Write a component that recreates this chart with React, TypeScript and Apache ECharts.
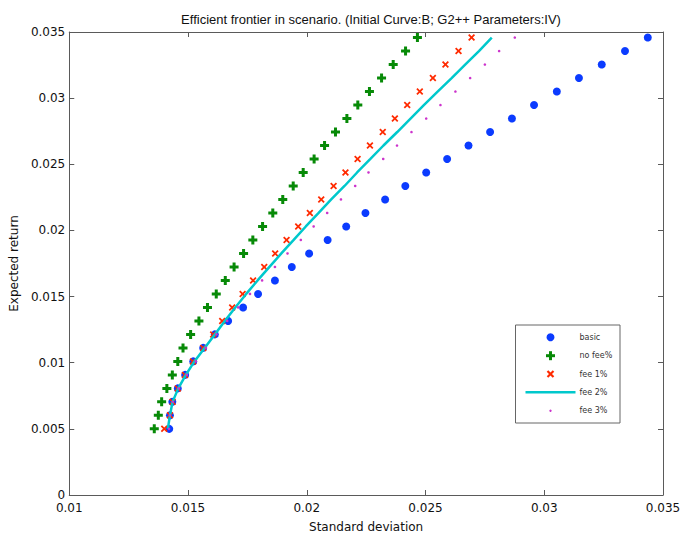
import React, { useEffect, useRef } from "react";
import * as echarts from "echarts";

const expectedReturn = [
  0.005, 0.00602, 0.00704, 0.00806, 0.00908, 0.0101, 0.01112, 0.01214, 0.01316, 0.01418,
  0.0152, 0.01622, 0.01724, 0.01826, 0.01928, 0.0203, 0.02132, 0.02234, 0.02336, 0.02438,
  0.0254, 0.02642, 0.02744, 0.02846, 0.02948, 0.0305, 0.03152, 0.03254, 0.03356, 0.03458,
];

const basicStd = [
  0.01421, 0.01424, 0.01434, 0.01457, 0.01488, 0.01522, 0.01564, 0.01613, 0.01669, 0.01732,
  0.01795, 0.01866, 0.01937, 0.0201, 0.02088, 0.02166, 0.02247, 0.0233, 0.02415, 0.02503,
  0.02591, 0.02681, 0.02772, 0.02864, 0.02957, 0.03053, 0.03146, 0.03242, 0.0334, 0.03436,
];

const noFeeStd = [
  0.01358, 0.01375, 0.01389, 0.01411, 0.01434, 0.01457, 0.01479, 0.01511, 0.01546, 0.01582,
  0.01619, 0.01657, 0.01694, 0.01734, 0.01773, 0.01814, 0.01857, 0.01899, 0.01943, 0.01985,
  0.02031, 0.02075, 0.02121, 0.02169, 0.02215, 0.02264, 0.02315, 0.02364, 0.02416, 0.02466,
];

const fee1Std = [
  0.014, 0.01424, 0.01435, 0.01457, 0.01487, 0.01521, 0.01564, 0.01606, 0.01644, 0.01686,
  0.0173, 0.01774, 0.01821, 0.01867, 0.01915, 0.01964, 0.02013, 0.02061, 0.02113, 0.02163,
  0.02214, 0.02266, 0.0232, 0.02371, 0.02423, 0.02476, 0.02531, 0.02584, 0.02639, 0.02694,
];

const fee2Std = [
  0.01415, 0.01424, 0.01435, 0.01459, 0.01491, 0.01527, 0.0157, 0.01613, 0.01655, 0.01699,
  0.01745, 0.01793, 0.01843, 0.01893, 0.01945, 0.01996, 0.0205, 0.02103, 0.02159, 0.02212,
  0.02268, 0.02323, 0.02381, 0.02437, 0.02493, 0.02551, 0.0261, 0.02667, 0.02725, 0.02779,
];

const fee3Std = [
  0.0142, 0.01424, 0.01436, 0.01462, 0.01495, 0.01533, 0.01575, 0.0162, 0.01665, 0.01711,
  0.01761, 0.01812, 0.01866, 0.01919, 0.01975, 0.02029, 0.02086, 0.02144, 0.02204, 0.0226,
  0.02322, 0.0238, 0.02441, 0.02503, 0.02563, 0.02626, 0.02688, 0.0275, 0.0281, 0.02876,
];

const seriesNames = ["basic", "no fee%", "fee 1%", "fee 2%", "fee 3%"];

const BLUE = "#0b3bff";
const GREEN = "#078a07";
const RED = "#ff2a00";
const CYAN = "#00c8cc";
const MAGENTA = "#cc33cc";
const AXIS = "#5a5a5a";

const PLUS = "path://M3,0H6V3H9V6H6V9H3V6H0V3H3Z";
const CROSS =
  "path://M0,1.6L1.6,0L4.5,2.9L7.4,0L9,1.6L6.1,4.5L9,7.4L7.4,9L4.5,6.1L1.6,9L0,7.4L2.9,4.5Z";

const pairs = (xs: number[]) => xs.map((x, i) => [x, expectedReturn[i]]);

const fmt = (v: number) => String(+v.toFixed(4));

export default function App() {
  const ref = useRef<HTMLDivElement>(null);
  useEffect(() => {
    if (!ref.current) return;
    const chart = echarts.init(ref.current, undefined, { renderer: "svg" });
    const font = "'Liberation Sans', Arial, sans-serif";
    const tickFont = "'DejaVu Sans', sans-serif";
    const commonAxis = {
      axisLine: { show: true, onZero: false, lineStyle: { color: AXIS, width: 1 } },
      axisTick: { show: true, inside: true, length: 5, lineStyle: { color: AXIS } },
      splitLine: { show: false },
    };
    const lx = 515.5;
    const ly = 325;
    const rowY = [12.3, 30.7, 49, 67.3, 85.7];
    const symX = 35;
    const txtX = 64;
    const legendChildren: any[] = [
      {
        type: "rect",
        shape: { x: 0, y: 0, width: 104.5, height: 98 },
        style: { fill: "#fff", stroke: "#666", lineWidth: 1 },
      },
      { type: "circle", shape: { cx: symX, cy: rowY[0], r: 4 }, style: { fill: BLUE } },
      { type: "rect", shape: { x: symX - 4.5, y: rowY[1] - 1.5, width: 9, height: 3 }, style: { fill: GREEN } },
      { type: "rect", shape: { x: symX - 1.5, y: rowY[1] - 4.5, width: 3, height: 9 }, style: { fill: GREEN } },
      { type: "line", shape: { x1: symX - 3, y1: rowY[2] - 3, x2: symX + 3, y2: rowY[2] + 3 }, style: { stroke: RED, lineWidth: 2.2 } },
      { type: "line", shape: { x1: symX - 3, y1: rowY[2] + 3, x2: symX + 3, y2: rowY[2] - 3 }, style: { stroke: RED, lineWidth: 2.2 } },
      { type: "line", shape: { x1: symX - 25, y1: rowY[3], x2: symX + 25, y2: rowY[3] }, style: { stroke: CYAN, lineWidth: 2.5 } },
      { type: "circle", shape: { cx: symX, cy: rowY[4], r: 1.2 }, style: { fill: MAGENTA } },
    ];
    seriesNames.forEach((n, i) => {
      legendChildren.push({
        type: "text",
        x: txtX,
        y: rowY[i],
        style: { text: n, fill: "#333", font: `8px ${tickFont}`, textVerticalAlign: "middle", textAlign: "left" },
      });
    });

    chart.setOption({
      animation: false,
      backgroundColor: "#fff",
      textStyle: { fontFamily: font },
      title: {
        text: "Efficient frontier in scenario. (Initial Curve:B; G2++ Parameters:IV)",
        left: 366,
        top: 8,
        textAlign: "center",
        textStyle: { fontSize: 13, fontWeight: "normal", color: "#111", fontFamily: font },
      },
      grid: { left: 69, right: 21, top: 32, bottom: 36, containLabel: false },
      xAxis: [
        {
          ...commonAxis,
          type: "value",
          position: "bottom",
          min: 0.01,
          max: 0.035,
          interval: 0.005,
          name: "Standard deviation",
          nameLocation: "middle",
          nameGap: 26,
          nameTextStyle: { fontSize: 12, color: "#111", fontFamily: tickFont },
          axisLabel: { fontSize: 12, color: "#111", margin: 7, formatter: fmt, fontFamily: tickFont },
        },
        {
          ...commonAxis,
          type: "value",
          position: "top",
          min: 0.01,
          max: 0.035,
          interval: 0.005,
          axisLabel: { show: false },
        },
      ],
      yAxis: [
        {
          ...commonAxis,
          type: "value",
          position: "left",
          min: 0,
          max: 0.035,
          interval: 0.005,
          name: "Expected return",
          nameLocation: "middle",
          nameGap: 42,
          nameRotate: 90,
          nameTextStyle: { fontSize: 12, color: "#111", fontFamily: tickFont },
          axisLabel: { fontSize: 12, color: "#111", margin: 4, formatter: fmt, fontFamily: tickFont },
        },
        {
          ...commonAxis,
          type: "value",
          position: "right",
          min: 0,
          max: 0.035,
          interval: 0.005,
          axisLabel: { show: false },
        },
      ],
      series: [
        {
          name: seriesNames[0],
          type: "scatter",
          data: pairs(basicStd),
          symbol: "circle",
          symbolSize: 8,
          itemStyle: { color: BLUE, opacity: 1 },
          z: 2,
        },
        {
          name: seriesNames[1],
          type: "scatter",
          data: pairs(noFeeStd),
          symbol: PLUS,
          symbolSize: 9,
          itemStyle: { color: GREEN, opacity: 1 },
          z: 3,
        },
        {
          name: seriesNames[2],
          type: "scatter",
          data: pairs(fee1Std),
          symbol: CROSS,
          symbolSize: 7,
          itemStyle: { color: RED, opacity: 1 },
          z: 4,
        },
        {
          name: seriesNames[3],
          type: "line",
          data: pairs(fee2Std),
          showSymbol: false,
          symbol: "none",
          lineStyle: { color: CYAN, width: 2.5 },
          itemStyle: { color: CYAN },
          z: 5,
        },
        {
          name: seriesNames[4],
          type: "scatter",
          data: pairs(fee3Std),
          symbol: "circle",
          symbolSize: 2.6,
          itemStyle: { color: MAGENTA, opacity: 1 },
          z: 6,
        },
      ],
      graphic: [
        {
          type: "group",
          x: lx,
          y: ly,
          z: 100,
          children: legendChildren,
        },
      ],
    });
    return () => chart.dispose();
  }, []);
  return <div ref={ref} style={{ width: 684, height: 538, position: "fixed", left: 0, top: 0 }} />;
}
